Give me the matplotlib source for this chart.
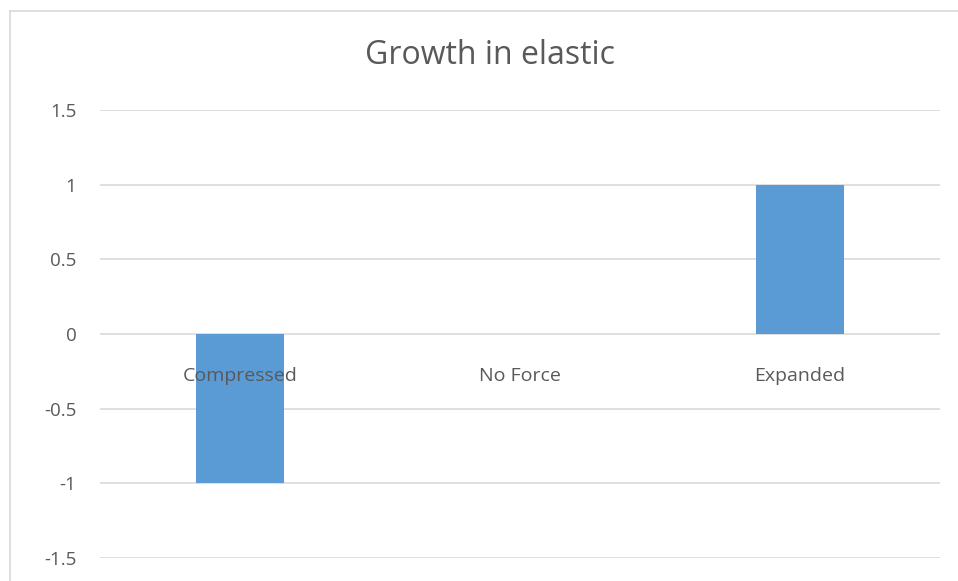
import matplotlib
matplotlib.use("Agg")
import matplotlib.pyplot as plt
from matplotlib.lines import Line2D

categories = ["Compressed", "No Force", "Expanded"]
values = [-1, 0, 1]
yticks = [-1.5, -1, -0.5, 0, 0.5, 1, 1.5]
ytick_labels = ["-1.5", "-1", "-0.5", "0", "0.5", "1", "1.5"]

plt.rcParams['font.family'] = ['Open Sans', 'DejaVu Sans']
W, H = 958, 581
fig = plt.figure(figsize=(W / 100, H / 100), dpi=100)
ax = fig.add_axes([100 / W, 1 - 558 / H, 840 / W, 448 / H])

x = list(range(len(categories)))
ax.bar(x, values, width=0.314, color="#5B9BD5", zorder=2)
ax.set_xlim(-0.5, len(categories) - 0.5)
ax.set_ylim(-1.5, 1.5)
ax.set_yticks(yticks)
ax.set_yticklabels(ytick_labels, color="#595959", fontsize=13.5)
ax.tick_params(axis='y', length=0, pad=17)
ax.set_xticks([])
for s in ax.spines.values():
    s.set_visible(False)
ax.grid(axis='y', color="#D9D9D9", linewidth=1.2, zorder=0)
ax.set_axisbelow(True)

for xi, c in zip(x, categories):
    ax.text(xi, -0.28, c, ha='center', va='center', color="#595959",
            fontsize=14, zorder=3)

fig.text(490 / W, 1 - 55 / H, "Growth in elastic", ha='center', va='center',
         color="#595959", fontsize=23)

fig.add_artist(Line2D([9.5 / W, 9.5 / W], [0, 1 - 11 / H], transform=fig.transFigure,
                      color="#D9D9D9", linewidth=1.2))
fig.add_artist(Line2D([9.5 / W, 1], [1 - 11 / H, 1 - 11 / H], transform=fig.transFigure,
                      color="#D9D9D9", linewidth=1.2))

fig.savefig("out.png", dpi=100)
